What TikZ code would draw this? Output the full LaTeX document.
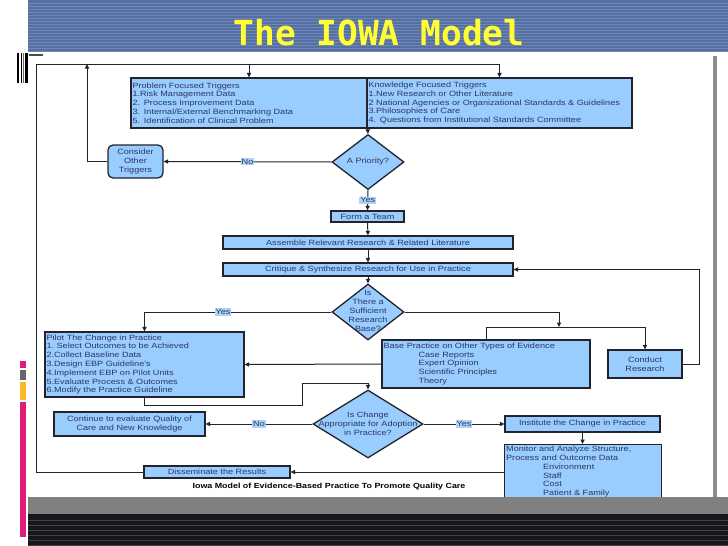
\documentclass[tikz,border=0pt]{standalone}
\usepackage{fontspec}
\setmainfont{Liberation Sans}[FakeStretch=1.2]
\newfontfamily\ttlfont{DejaVu Sans Mono}
\usetikzlibrary{positioning,arrows.meta,shapes.geometric}
\definecolor{boxblue}{RGB}{153,204,255}
\definecolor{lblblue}{RGB}{172,211,250}
\definecolor{txtc}{RGB}{45,55,95}
\definecolor{edge}{RGB}{35,35,45}
\definecolor{hdr}{RGB}{86,111,162}
\definecolor{hdrl}{RGB}{112,136,182}
\definecolor{ttly}{RGB}{255,255,51}
\definecolor{pinkbar}{RGB}{220,30,120}
\definecolor{goldbar}{RGB}{250,185,40}
\definecolor{darkband}{RGB}{22,22,28}
\newcommand{\boxfont}{\fontsize{7.6}{8.8}\selectfont}
\tikzset{
  flow/.style={-{Triangle[length=4.5pt,width=4.2pt]},line width=1pt,draw=edge},
  link/.style={line width=1pt,draw=edge},
  tbox/.style={draw=edge,fill=boxblue,line width=1.3pt,text=txtc,font=\boxfont,
    align=left,inner sep=1.5pt},
  cbox/.style={tbox,align=center},
  dbox/.style={diamond,draw=edge,fill=boxblue,line width=1.3pt,inner sep=0pt},
  dtxt/.style={text=txtc,font=\boxfont,align=center,inner sep=0pt},
  yn/.style={fill=lblblue,text=txtc,font=\boxfont,inner sep=1pt},
}
\begin{document}
\begin{tikzpicture}[x=1pt,y=-1pt]
  \fill[white] (0,0) rectangle (728,546);
  \useasboundingbox (0,0) rectangle (728,546);
  % slide header
  \fill[hdr] (28,0) rectangle (728,52);
  \foreach \y in {3,6,...,51} \draw[hdrl,line width=0.4pt] (28,\y) -- (728,\y);
  \node[text=ttly,font=\ttlfont\bfseries\fontsize{34.5}{34.5}\selectfont] (title) at (379,33) {The IOWA Model};
  % left decorations
  \fill[black] (17,53) rectangle (19,83);
  \fill[black] (20.5,53) rectangle (22,83);
  \fill[black!60] (23,53) rectangle (24,83);
  \fill[black] (25,53) rectangle (28,83);
  \fill[black!70] (29,54) rectangle (43,56);
  \fill[pinkbar] (20,361) rectangle (26,368);
  \fill[black!60] (20,370) rectangle (26,380);
  \fill[goldbar] (20,382) rectangle (26,400);
  \fill[pinkbar] (20,402) rectangle (26,537);
  % page shadow
  \fill[black!45] (713,56) rectangle (717,497);

  % boxes
  \node[tbox,text width=233,minimum height=50] (prob) at (249,103)
    {Problem Focused Triggers\\1.Risk Management Data\\2. Process Improvement Data\\
     3. Internal/External Benchmarking Data\\5. Identification of Clinical Problem};
  \node[tbox,text width=262,minimum height=50] (know) at (499.5,103)
    {Knowledge Focused Triggers\\1.New Research or Other Literature\\
     2 National Agencies or Organizational Standards \& Guidelines\\
     3.Philosophies of Care\\4. Questions from Institutional Standards Committee};
  \node[dbox,minimum width=72,minimum height=55] (prio) at (368,162) {};
  \node[dtxt] (prio-t) at (prio) {A Priority?};
  \node[cbox,rounded corners=5pt,minimum width=55,minimum height=33] (consider) at (135.5,161.5)
    {Consider\\Other\\Triggers};
  \node[cbox,minimum width=73,minimum height=11] (team) at (367.5,216.5) {Form a Team};
  \node[cbox,minimum width=290,minimum height=13] (assemble) at (368,242.5)
    {Assemble Relevant Research \& Related Literature};
  \node[cbox,minimum width=290,minimum height=13] (critique) at (368,269.5)
    {Critique \& Synthesize Research for Use in Practice};
  \node[dbox,minimum width=72,minimum height=56] (suff) at (368,312) {};
  \node[dtxt] (suff-t) at (368,311) {Is\\There a\\Sufficient\\Research\\Base?};
  \node[tbox,text width=196,minimum height=65] (pilot) at (144.5,364.5)
    {Pilot The Change in Practice\\1.\ Select Outcomes to be Achieved\\2.Collect Baseline Data\\
     3.Design EBP Guideline's\\4.Implement EBP on Pilot Units\\5.Evaluate Process \& Outcomes\\
     6.Modify the Practice Guideline};
  \node[tbox,text width=205,minimum height=48] (base) at (486,364)
    {Base Practice on Other Types of Evidence\\\hspace*{35pt}Case Reports\\
     \hspace*{35pt}Expert Opinion\\\hspace*{35pt}Scientific Principles\\\hspace*{35pt}Theory};
  \node[cbox,minimum width=74,minimum height=28] (conduct) at (645,364) {Conduct\\Research};
  \node[dbox,minimum width=110,minimum height=68] (change) at (368,424) {};
  \node[dtxt] (change-t) at (change) {Is Change\\Appropriate for Adoption\\in Practice?};
  \node[cbox,minimum width=151,minimum height=24] (cont) at (129.5,424)
    {Continue to evaluate Quality of\\Care and New Knowledge};
  \node[cbox,minimum width=155,minimum height=16] (inst) at (582.5,424)
    {Institute the Change in Practice};
  \node[tbox,text width=154,anchor=north west] (monitor) at (504,444)
    {Monitor and Analyze Structure,\\Process and Outcome Data\\\hspace*{37pt}Environment\\
     \hspace*{37pt}Staff\\\hspace*{37pt}Cost\\\hspace*{37pt}Patient \& Family};
  \node[cbox,minimum width=146,minimum height=12] (dissem) at (217,472) {Disseminate the Results};
  \node[font=\bfseries\fontsize{7.4}{8}\selectfont] (caption) at (329,487)
    {Iowa Model of Evidence-Based Practice To Promote Quality Care};

  % connectors
  \coordinate (tl) at (36,64);
  \coordinate (bl) at (36,472);
  \coordinate (ctop) at (87,64);
  \coordinate (split) at (559,327);
  \coordinate (rr) at (699,364);
  \coordinate (lp1) at (302,405);
  \coordinate (lp2) at (368,383);
  \draw[flow] (dissem.west) -- (bl) -- (tl) -| (know.north);
  \draw[flow] (prob.north |- tl) -- (prob.north);
  \draw[flow] (prob.south east) -- (prio.north);
  \draw[flow] (prio.west) -- node[yn]{No} (consider.east);
  \draw[flow] (consider.west) -| (ctop);
  \draw[flow] (prio.south) -- node[yn]{Yes} (team.north);
  \draw[flow] (team.south) -- (assemble.north);
  \draw[flow] (assemble.south) -- (critique.north);
  \draw[flow] (critique.south) -- (suff.north);
  \draw[flow] (suff.west) -| node[yn,pos=0.29]{Yes} (pilot.north);
  \draw[flow] (suff.east) -| (split);
  \draw[link] (base.north |- split) -- (conduct.north |- split);
  \draw[link] (base.north |- split) -- (base.north);
  \draw[flow] (conduct.north |- split) -- (conduct.north);
  \draw[flow] (base.west) -- (pilot.east);
  \draw[flow] (conduct.east) -- (rr) |- (critique.east);
  \draw[flow] (pilot.south) |- (lp1) |- (lp2) -- (change.north);
  \draw[flow] (change.west) -- node[yn]{No} (cont.east);
  \draw[flow] (change.east) -- node[yn]{Yes} (inst.west);
  \draw[flow] (inst.south) -- (inst.south |- monitor.north);
  \draw[flow] (monitor.west |- dissem) -- (dissem.east);

  % slide footer
  \fill[black!50] (28,497) rectangle (728,514);
  \fill[darkband] (28,514) rectangle (728,546);
  \foreach \y in {520,525,...,545} \draw[black!75,line width=0.5pt] (28,\y) -- (728,\y);
\end{tikzpicture}
\end{document}
